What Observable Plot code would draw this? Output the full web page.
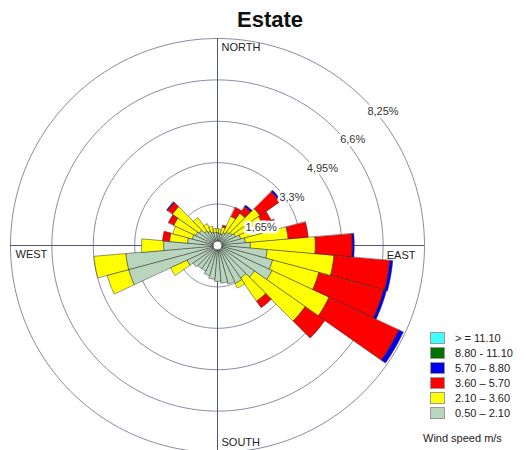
<!DOCTYPE html>
<html>
<head>
<meta charset="utf-8">
<script src="https://cdn.jsdelivr.net/npm/d3@7"></script>
<script src="https://cdn.jsdelivr.net/npm/@observablehq/plot@0.6"></script>
<style>
  body { margin: 0; background: #fff; font-family: Arial, "Liberation Sans", sans-serif; }
  #wrap { position: relative; width: 526px; height: 450px; overflow: hidden; }
  #wrap svg { position: absolute; left: 0; top: 0; }
  #title { position: absolute; left: 170px; top: 8px; width: 200px; text-align: center;
           font-weight: bold; font-size: 22px; line-height: 24px; color: #111; }
  #legend { position: absolute; left: 430px; top: 330px; font-size: 11px; color: #222; }
  #legend .row { display: flex; align-items: center; height: 15px; }
  #legend .box { width: 15px; height: 12px; margin-right: 10px; box-sizing: border-box; border: 1px solid #999; }
  #caption { position: absolute; left: 423px; top: 431px; font-size: 11px; line-height: 14px; color: #222; }
</style>
</head>
<body>
<div id="wrap">
  <div id="title">Estate</div>
  <div id="legend"></div>
  <div id="caption">Wind speed m/s</div>
</div>
<script>
// Wind direction sectors (degrees clockwise from north), 10° wide
const directions = [0, 10, 20, 30, 40, 50, 60, 70, 80, 90, 100, 110,
                    120, 130, 140, 150, 160, 170, 180, 190, 200, 210, 220, 230,
                    240, 250, 260, 270, 280, 290, 300, 310, 320, 330, 340, 350];

// Frequency (%) of each speed class per sector
const speed050_210 = [0.52, 0.48, 0.48, 0.56, 0.64, 0.72, 0.80, 0.96, 1.12, 1.31, 1.99, 2.27,
                      2.39, 1.79, 1.59, 1.67, 1.59, 1.51, 1.43, 1.35, 1.24, 1.12, 1.12, 1.20,
                      1.35, 3.67, 3.67, 2.15, 1.20, 1.04, 0.96, 0.88, 0.72, 0.64, 0.56, 0.52];
const speed210_360 = [0.16, 0.16, 0.28, 0.72, 0.92, 1.35, 1.20, 1.04, 1.71, 2.59, 2.67, 1.91,
                      2.51, 2.47, 1.12, 0.20, 0, 0, 0, 0, 0, 0, 0, 0,
                      0.72, 0.88, 1.27, 0.88, 0.72, 0.80, 0.96, 1.31, 0.64, 0.32, 0.24, 0.16];
const speed360_570 = [0, 0, 0.08, 0.40, 0.32, 0.96, 0.36, 0.48, 0.80, 1.47, 2.23, 2.67,
                      3.07, 0.96, 0.32, 0, 0, 0, 0, 0, 0, 0, 0, 0,
                      0, 0, 0, 0, 0.28, 0, 0.24, 0.24, 0, 0, 0, 0];
const speed570_880 = [0, 0, 0, 0, 0.08, 0.08, 0, 0, 0, 0.08, 0.12, 0.12,
                      0.20, 0, 0, 0, 0, 0, 0, 0, 0, 0, 0, 0,
                      0, 0, 0, 0, 0, 0, 0, 0.04, 0, 0, 0, 0];
const speed880_1110 = [0, 0, 0, 0, 0, 0, 0, 0, 0, 0, 0, 0,
                       0, 0, 0, 0, 0, 0, 0, 0, 0, 0, 0, 0,
                       0, 0, 0, 0, 0, 0, 0, 0, 0, 0, 0, 0];
const speed1110_up = [0, 0, 0, 0, 0, 0, 0, 0, 0, 0, 0, 0,
                      0, 0, 0, 0, 0, 0, 0, 0, 0, 0, 0, 0,
                      0, 0, 0, 0, 0, 0, 0, 0, 0, 0, 0, 0];

// Speed classes, from calmest to strongest
const speedClasses = ["0.50 \u2013 2.10", "2.10 \u2013 3.60", "3.60 \u2013 5.70",
                      "5.70 \u2013 8.80", "8.80 - 11.10", "> = 11.10"];
const classColors = ["#b9d5bd", "#ffff00", "#ff0000", "#0000f0", "#007000", "#40ffff"];

// Frequency rings and their labels
const ringValues = [1.65, 3.3, 4.95, 6.6, 8.25];
const ringLabels = ["1,65%", "3,3%", "4,95%", "6,6%", "8,25%"];

// ---- layout ----
const W = 526, H = 450;
const cx = 217, cy = 245;              // pixel position of the rose centre
const pxPerUnit = 41.4 / 1.65;         // pixels per percent
const R = ringValues[ringValues.length - 1];
const hole = 4.5 / pxPerUnit;
const rad = d => d * Math.PI / 180;

// Ring outlines
const ringPts = [];
ringValues.forEach(v => {
  for (let j = 0; j < 240; j++) {
    const a = 2 * Math.PI * j / 240;
    ringPts.push({ring: v, x: v * Math.sin(a), y: v * Math.cos(a)});
  }
});

// Stacked wedge polygons, one per sector and speed class
const series = [speed050_210, speed210_360, speed360_570, speed570_880, speed880_1110, speed1110_up];
const wedges = [];
directions.forEach((dir, i) => {
  let base = 0;
  series.forEach((vals, s) => {
    const v = vals[i];
    if (v > 0) {
      const r0 = Math.max(base, hole), r1 = base + v;
      const id = dir + "-" + s;
      const n = 10;
      for (let j = 0; j <= n; j++) {
        const a = rad(dir - 5 + 10 * j / n);
        wedges.push({id, cls: speedClasses[s], x: r1 * Math.sin(a), y: r1 * Math.cos(a)});
      }
      for (let j = n; j >= 0; j--) {
        const a = rad(dir - 5 + 10 * j / n);
        wedges.push({id, cls: speedClasses[s], x: r0 * Math.sin(a), y: r0 * Math.cos(a)});
      }
    }
    base += v;
  });
});

// Ring label anchors along the north-east diagonal
const labelPos = ringValues.map((v, k) => {
  const a = rad(47 + 20 / (k + 1));
  const r = v + 6 / pxPerUnit;
  return {x: r * Math.sin(a), y: r * Math.cos(a), text: ringLabels[k]};
});

const axisColor = "#50557a";
const ringColor = "#7a7e92";
const font = {fontSize: 11, fill: "#222"};

const chart = Plot.plot({
  width: W, height: H,
  marginTop: 0, marginRight: 0, marginBottom: 0, marginLeft: 0,
  style: {fontFamily: "Arial, 'Liberation Sans', sans-serif", background: "white", overflow: "hidden"},
  x: {domain: [-cx / pxPerUnit, (W - cx) / pxPerUnit], axis: null},
  y: {domain: [-(H - cy) / pxPerUnit, cy / pxPerUnit], axis: null},
  color: {domain: speedClasses, range: classColors},
  marks: [
    Plot.line(ringPts, {x: "x", y: "y", z: "ring", stroke: ringColor, strokeWidth: 0.9, curve: "linear-closed"}),
    Plot.ruleX([0], {y1: -R, y2: R, stroke: axisColor, strokeWidth: 1}),
    Plot.ruleY([0], {x1: -R, x2: R, stroke: axisColor, strokeWidth: 1}),
    Plot.line(wedges, {x: "x", y: "y", z: "id", fill: "cls", stroke: "#2b2b2b", strokeWidth: 0.5,
                       strokeLinejoin: "miter", curve: "linear-closed"}),
    Plot.dot([0], {x: 0, y: 0, r: 4.5, fill: "white", stroke: "#555", strokeWidth: 1}),
    Plot.text(labelPos, {x: "x", y: "y", text: "text", fontSize: 11, fill: "#333",
                         stroke: "white", strokeWidth: 5, textAnchor: "middle"}),
    Plot.text(["NORTH"], {x: 0, y: R, text: d => d, textAnchor: "start", dx: 4, dy: 9, ...font}),
    Plot.text(["SOUTH"], {x: 0, y: -R, text: d => d, textAnchor: "start", dx: 4, dy: -10, ...font}),
    Plot.text(["WEST"], {x: -R, y: 0, text: d => d, textAnchor: "start", dx: 5, dy: 9, ...font}),
    Plot.text(["EAST"], {x: R, y: 0, text: d => d, textAnchor: "end", dx: -9, dy: 10, ...font})
  ]
});
document.getElementById("wrap").prepend(chart);

// Legend, strongest class on top
const legend = document.getElementById("legend");
speedClasses.map((c, i) => [c, classColors[i]]).reverse().forEach(([c, col]) => {
  const row = document.createElement("div");
  row.className = "row";
  const box = document.createElement("div");
  box.className = "box";
  box.style.background = col;
  const label = document.createElement("span");
  label.textContent = c;
  row.append(box, label);
  legend.append(row);
});
</script>
</body>
</html>
